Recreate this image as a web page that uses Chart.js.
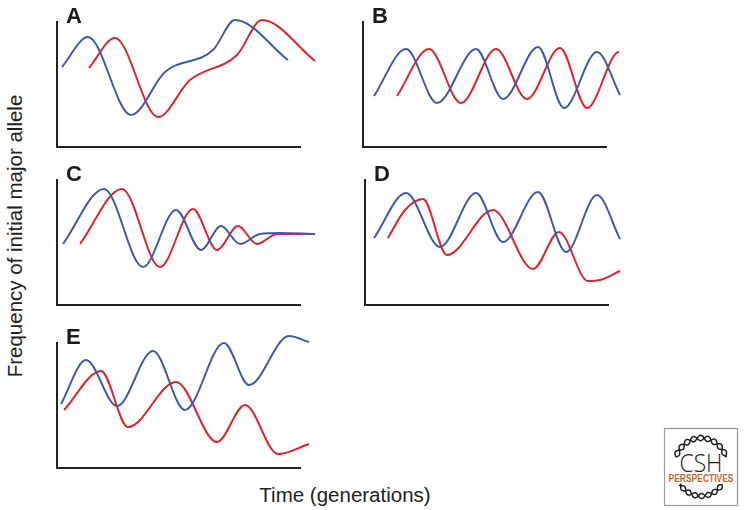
<!DOCTYPE html>
<html>
<head>
<meta charset="utf-8">
<script src="https://cdn.jsdelivr.net/npm/chart.js@4.4.1/dist/chart.umd.min.js"></script>
<style>
  html, body { margin: 0; padding: 0; background: #fff; }
  #wrap { position: relative; width: 744px; height: 510px; overflow: hidden; font-family: "Liberation Sans", Arial, sans-serif; }
  .panel { position: absolute; }
  .tag { position: absolute; font-weight: bold; font-size: 22px; color: #1a1a1a; line-height: 1; }
  #ylab { position: absolute; left: 15px; top: 236px; transform: translate(-50%, -50%) rotate(-90deg); white-space: nowrap; font-size: 20.5px; color: #222; }
  #xlab { position: absolute; left: 345px; top: 495px; transform: translate(-50%, -50%); white-space: nowrap; font-size: 20.5px; color: #222; }
  #logo { position: absolute; left: 0; top: 0; }
</style>
</head>
<body>
<div id="wrap">
  <div id="ylab">Frequency of initial major allele</div>
  <div id="xlab">Time (generations)</div>
</div>
<script>
// Time axis runs 0..243, frequency axis 0..125 in every panel (arbitrary units)
const TIME_MAX = 243;
const FREQ_MAX = 125;

// Panel A
const aBlueT = [5, 31, 74, 108, 156, 178, 231];
const aBlueF = [80, 110, 32, 75, 97, 127, 87];
const aRedT = [32, 58, 101, 133, 180, 205, 258];
const aRedF = [79, 109, 30, 67, 92, 127, 86];

// Panel B
const bBlueT = [11, 43, 74, 113, 140, 175, 201, 234, 257];
const bBlueF = [51, 98, 44, 98, 48, 100, 39, 95, 52];
const bRedT = [34, 66, 98, 133, 164, 197, 224, 256, 280];
const bRedF = [51, 98, 44, 98, 48, 99, 39, 95, 51];

// Panel C
const cBlueT = [6, 47, 86, 119, 144, 164, 183, 203, 223, 258];
const cBlueF = [61, 116, 38, 95, 55, 79, 61, 71, 72, 71];
const cRedT = [23, 65, 103, 136, 160, 181, 200, 220, 258];
const cRedF = [61, 116, 38, 96, 55, 79, 61, 71, 71];

// Panel D
const dBlueT = [9, 41, 75, 111, 138, 173, 201, 232, 255];
const dBlueF = [67, 112, 58, 112, 63, 113, 53, 110, 66];
const dRedT = [23, 40, 58, 82, 128, 168, 194, 223, 235, 255];
const dRedF = [67, 95, 106, 50, 95, 36, 73, 24, 25, 34];

// Panel E
const eBlueT = [4, 29, 60, 96, 128, 167, 192, 232, 252];
const eBlueF = [64, 108, 62, 117, 58, 125, 83, 132, 126];
const eRedT = [7, 44, 71, 119, 160, 188, 221, 252];
const eRedF = [58, 97, 41, 86, 26, 63, 14, 24];

const BLUE = '#3d5ba6';
const RED = '#d9252d';

const panels = [
  { tag: 'A', left: 57, top: 22, blue: [aBlueT, aBlueF], red: [aRedT, aRedF] },
  { tag: 'B', left: 363, top: 22, blue: [bBlueT, bBlueF], red: [bRedT, bRedF] },
  { tag: 'C', left: 57, top: 180, blue: [cBlueT, cBlueF], red: [cRedT, cRedF] },
  { tag: 'D', left: 365, top: 180, blue: [dBlueT, dBlueF], red: [dRedT, dRedF] },
  { tag: 'E', left: 57, top: 343, blue: [eBlueT, eBlueF], red: [eRedT, eRedF] }
];

const PAD = { left: 12, top: 22, right: 48, bottom: 8 };
const AXIS_W = 243, AXIS_H = 125;

function pts(ts, fs) {
  return ts.map((t, i) => ({ x: t, y: fs[i] }));
}

const wrap = document.getElementById('wrap');

panels.forEach(p => {
  const c = document.createElement('canvas');
  c.className = 'panel';
  const w = AXIS_W + PAD.left + PAD.right;
  const h = AXIS_H + PAD.top + PAD.bottom;
  c.width = w; c.height = h;
  c.style.left = (p.left - PAD.left) + 'px';
  c.style.top = (p.top - PAD.top) + 'px';
  c.style.width = w + 'px';
  c.style.height = h + 'px';
  wrap.appendChild(c);

  const tag = document.createElement('div');
  tag.className = 'tag';
  tag.textContent = p.tag;
  tag.style.left = (p.left + 9) + 'px';
  tag.style.top = (p.top - 17) + 'px';
  wrap.appendChild(tag);

  const axis = {
    type: 'linear',
    ticks: { display: false },
    grid: { display: false, drawTicks: false },
    border: { display: true, color: '#222', width: 2 }
  };

  new Chart(c, {
    type: 'line',
    data: {
      datasets: [
        { data: pts(p.blue[0], p.blue[1]), borderColor: BLUE },
        { data: pts(p.red[0], p.red[1]), borderColor: RED }
      ]
    },
    options: {
      responsive: false,
      animation: false,
      layout: { padding: PAD },
      datasets: {
        line: {
          borderWidth: 2,
          pointRadius: 0,
          cubicInterpolationMode: 'monotone',
          clip: false,
          fill: false
        }
      },
      scales: {
        x: Object.assign({}, axis, { min: 0, max: TIME_MAX }),
        y: Object.assign({}, axis, { min: 0, max: FREQ_MAX })
      },
      plugins: { legend: { display: false }, tooltip: { enabled: false } }
    }
  });
});

// CSH Perspectives badge
function helix(cx, cy, rx, ry, a0, a1, phase) {
  let d = '';
  const n = 80;
  for (let i = 0; i <= n; i++) {
    const th = a0 + (a1 - a0) * i / n;
    const k = 1 + 0.09 * Math.sin((th - a0) * 12 + phase);
    const x = cx + rx * k * Math.cos(th);
    const y = cy + ry * k * Math.sin(th);
    d += (i ? 'L' : 'M') + x.toFixed(1) + ' ' + y.toFixed(1);
  }
  return d;
}
const cx = 701, cy = 468;
const top0 = Math.PI * 1.12, top1 = Math.PI * 1.88;
const bot0 = Math.PI * 0.2, bot1 = Math.PI * 0.8;
const svg = `<svg id="logo" width="744" height="510" xmlns="http://www.w3.org/2000/svg">
  <rect x="664.5" y="428.5" width="73" height="77" fill="#fff" stroke="#9a9a9a" stroke-width="1.2"/>
  <g fill="none" stroke="#222" stroke-width="1.5">
    <path d="${helix(cx, cy, 27, 30, top0, top1, 0)}"/>
    <path d="${helix(cx, cy, 27, 30, top0, top1, Math.PI)}"/>
    <path d="${helix(cx, cy, 26, 28, bot0, bot1, 0)}"/>
    <path d="${helix(cx, cy, 26, 28, bot0, bot1, Math.PI)}"/>
  </g>
  <text x="701" y="472" text-anchor="middle" font-family="Open Sans" font-weight="300" font-size="25" fill="#222" textLength="43" lengthAdjust="spacingAndGlyphs">CSH</text>
  <text x="701" y="482" text-anchor="middle" font-family="Liberation Sans Narrow, Liberation Sans" font-weight="bold" font-size="10.5" fill="#c4692b" textLength="65" lengthAdjust="spacingAndGlyphs">PERSPECTIVES</text>
</svg>`;
wrap.insertAdjacentHTML('beforeend', svg);
</script>
</body>
</html>
